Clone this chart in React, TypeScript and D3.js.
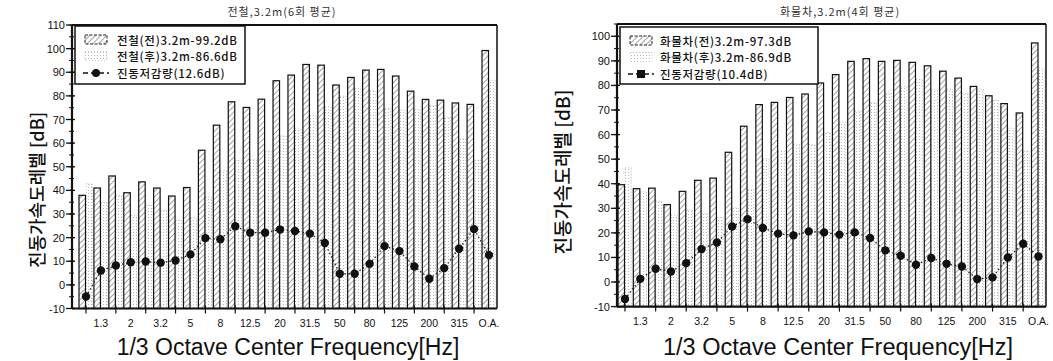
import React from "react";
import * as d3 from "d3";

const CATEGORIES = ["1","1.25","1.6","2","2.5","3.15","4","5","6.3","8","10","12.5","16","20","25","31.5","40","50","63","80","100","125","160","200","250","315","400","O.A."];
const X_LABELS = ["","1.3","","2","","3.2","","5","","8","","12.5","","20","","31.5","","50","","80","","125","","200","","315","","O.A."];

const RAIL_BEFORE = [37.9,41,46.1,39,43.6,41,37.6,41.2,57,67.6,77.5,75.1,78.6,86.4,88.8,93.3,93,84.6,87.8,90.9,91.2,88.4,82,78.5,78.2,77,76.4,99.2];
const RAIL_AFTER = [42.8,34.9,37.9,29.4,33.7,31.6,27.3,28.3,37.2,48.3,52.7,53.0,56.5,63.0,66.0,71.6,75.3,79.9,83.1,82.0,74.8,74.1,74.2,75.9,71.1,61.7,52.8,86.6];
const RAIL_REDUCTION = [-4.9,6.1,8.2,9.6,9.9,9.4,10.3,12.9,19.8,19.3,24.8,22.1,22.1,23.4,22.8,21.7,17.7,4.7,4.7,8.9,16.4,14.3,7.8,2.6,7.1,15.3,23.6,12.6];

const FREIGHT_BEFORE = [39.6,38,38.2,31.5,36.9,41.4,42.3,52.8,63.4,72.2,73.1,75.1,76.5,81,84.4,89.8,90.9,89.8,90.2,89.4,88,85.8,83,79.6,75.8,72.6,68.8,97.3];
const FREIGHT_AFTER = [46.5,36.7,32.8,27.2,29.2,28.0,26.2,30.2,37.8,50.2,53.4,56.1,55.9,60.8,65.1,69.6,73.0,76.9,79.5,82.4,78.2,78.4,76.7,78.4,73.9,62.6,53.2,86.9];
const FREIGHT_REDUCTION = [-6.9,1.3,5.4,4.3,7.7,13.4,16.1,22.6,25.6,22.0,19.7,19.0,20.6,20.2,19.3,20.2,17.9,12.9,10.7,7.0,9.8,7.4,6.3,1.2,1.9,10.0,15.6,10.4];

const RAIL_Y_TICKS = [-10,0,10,20,30,40,50,60,70,80,90,100,110];
const FREIGHT_Y_TICKS = [-10,0,10,20,30,40,50,60,70,80,90,100];

const RAIL_LEGEND = ["전철(전)3.2m-99.2dB","전철(후)3.2m-86.6dB","진동저감량(12.6dB)"];
const FREIGHT_LEGEND = ["화물차(전)3.2m-97.3dB","화물차(후)3.2m-86.9dB","진동저감량(10.4dB)"];

const FONT = "'Liberation Sans', Arial, sans-serif";
const KFONT = "'Noto Sans CJK KR', sans-serif";

function Chart(props: any) {
  const { frame, yDomain, pointRange, before, after, reduction, yTicks, title, titleX, legend, legendBox, swatchX, textX, yTitleX, yTitleY, yTitleSize, xTitleX, xTitleSize, squareMarker } = props;
  const { left, right, top, bottom } = frame;
  const y = d3.scaleLinear().domain(yDomain).range([bottom, top]);
  const x = d3.scalePoint<string>().domain(CATEGORIES).range(pointRange);
  const minor = d3.range(yDomain[0], yDomain[1] + 0.01, 5);
  const line = d3.line<number>().x((_, i) => x(CATEGORIES[i]) as number).y((d) => y(d));
  const rowY = [legendBox.y + 14, legendBox.y + 30.5, legendBox.y + 47];
  return (
    <g>
      <text x={titleX} y={16} textAnchor="middle" fontFamily={KFONT} fontSize={11} fill="#333" letterSpacing={1}>{title}</text>
      {CATEGORIES.map((c, i) => {
        const cx = x(c) as number;
        return (
          <g key={c}>
            <rect x={cx + 0.2} y={y(after[i])} width={6} height={bottom - y(after[i])} fill="url(#dots)" stroke="#aaa" strokeWidth={0.8} strokeDasharray="1 2" />
            <rect x={cx - 7} y={y(before[i])} width={6.5} height={bottom - y(before[i])} fill="url(#hatch)" stroke="#111" strokeWidth={1.2} />
          </g>
        );
      })}
      <path d={line(reduction) as string} fill="none" stroke="#222" strokeWidth={1.3} strokeDasharray="1.5 2.5" />
      {reduction.map((r: number, i: number) => (
        <circle key={i} cx={x(CATEGORIES[i]) as number} cy={y(r)} r={4.2} fill="#111" />
      ))}
      <line x1={left} x2={right} y1={top} y2={top} stroke="#111" strokeWidth={1.8} />
      <line x1={right} x2={right} y1={top} y2={bottom} stroke="#111" strokeWidth={1.5} />
      <line x1={left} x2={left} y1={top} y2={bottom} stroke="#111" strokeWidth={2.2} />
      <line x1={left} x2={right} y1={bottom} y2={bottom} stroke="#111" strokeWidth={2.2} />
      {minor.map((v: number) => (
        <line key={"m" + v} x1={left - 3} x2={left + 2} y1={y(v)} y2={y(v)} stroke="#111" strokeWidth={1} />
      ))}
      {yTicks.map((v: number) => (
        <g key={"t" + v}>
          <line x1={left - 6} x2={left + 3} y1={y(v)} y2={y(v)} stroke="#111" strokeWidth={1.3} />
          <text x={left - 7} y={y(v) + 4} textAnchor="end" fontFamily={FONT} fontSize={11} fill="#111">{v}</text>
        </g>
      ))}
      {CATEGORIES.map((c, i) => (
        <g key={"x" + c}>
          {i % 2 === 0 && <line x1={x(c) as number} x2={x(c) as number} y1={bottom - 3} y2={bottom + 5} stroke="#111" strokeWidth={1.2} />}
          {X_LABELS[i] && <text x={x(c) as number} y={bottom + 18} textAnchor="middle" fontFamily={FONT} fontSize={10.5} fill="#111">{X_LABELS[i]}</text>}
        </g>
      ))}
      <text x={xTitleX} y={355} textAnchor="middle" fontFamily={FONT} fontSize={xTitleSize} fill="#111">1/3 Octave Center Frequency[Hz]</text>
      <text transform={`translate(${yTitleX},${yTitleY}) rotate(-90)`} textAnchor="middle" fontFamily={KFONT} fontSize={yTitleSize} fontWeight={500} fill="#111">진동가속도레벨 [dB]</text>
      <rect x={legendBox.x} y={legendBox.y} width={legendBox.w} height={legendBox.h} fill="#fff" stroke="#111" strokeWidth={1.5} />
      <rect x={swatchX} y={rowY[0] - 5} width={22} height={9} fill="url(#hatch)" stroke="#222" strokeWidth={1} strokeDasharray="3 1.5" />
      <rect x={swatchX} y={rowY[1] - 5} width={22} height={9} fill="url(#dots)" stroke="#bbb" strokeWidth={0.8} strokeDasharray="1 2" />
      <line x1={swatchX - 2} x2={swatchX + 24} y1={rowY[2]} y2={rowY[2]} stroke="#111" strokeWidth={1.3} strokeDasharray="5 3" />
      {squareMarker ? (
        <rect x={swatchX + 7} y={rowY[2] - 4} width={8} height={8} fill="#111" />
      ) : (
        <circle cx={swatchX + 11} cy={rowY[2]} r={4} fill="#111" />
      )}
      {legend.map((t: string, i: number) => (
        <text key={t} x={textX} y={rowY[i] + 4.5} fontFamily={KFONT} fontSize={11.5} fontWeight={500} fill="#111" letterSpacing={0.7}>{t}</text>
      ))}
    </g>
  );
}

export default function App() {
  return (
    <svg width={1053} height={361} style={{ position: "absolute", left: 0, top: 0, background: "#fff" }}>
      <defs>
        <pattern id="hatch" patternUnits="userSpaceOnUse" width={4} height={4} patternTransform="rotate(45)">
          <rect width={4} height={4} fill="#fff" />
          <line x1={0} y1={0} x2={0} y2={4} stroke="#666" strokeWidth={1.2} />
        </pattern>
        <pattern id="dots" patternUnits="userSpaceOnUse" width={3} height={3}>
          <rect width={3} height={3} fill="#fff" />
          <circle cx={1.5} cy={1.5} r={0.55} fill="#aaa" />
        </pattern>
      </defs>
      <Chart
        frame={{ left: 72, right: 497, top: 25, bottom: 308.5 }}
        yDomain={[-10, 110]}
        pointRange={[86, 489]}
        before={RAIL_BEFORE}
        after={RAIL_AFTER}
        reduction={RAIL_REDUCTION}
        yTicks={RAIL_Y_TICKS}
        title="전철,3.2m(6회 평균)"
        titleX={282}
        legend={RAIL_LEGEND}
        legendBox={{ x: 75, y: 26, w: 170, h: 58 }}
        swatchX={85}
        textX={117}
        yTitleX={44}
        yTitleY={190}
        yTitleSize={18}
        xTitleX={288}
        xTitleSize={23}
        squareMarker={false}
      />
      <Chart
        frame={{ left: 617, right: 1046, top: 24, bottom: 306.6 }}
        yDomain={[-10, 105]}
        pointRange={[625, 1038.5]}
        before={FREIGHT_BEFORE}
        after={FREIGHT_AFTER}
        reduction={FREIGHT_REDUCTION}
        yTicks={FREIGHT_Y_TICKS}
        title="화물차,3.2m(4회 평균)"
        titleX={840}
        legend={FREIGHT_LEGEND}
        legendBox={{ x: 620, y: 27, w: 198, h: 57 }}
        swatchX={630}
        textX={660}
        yTitleX={570}
        yTitleY={172}
        yTitleSize={19}
        xTitleX={838}
        xTitleSize={23.5}
        squareMarker={true}
      />
    </svg>
  );
}
